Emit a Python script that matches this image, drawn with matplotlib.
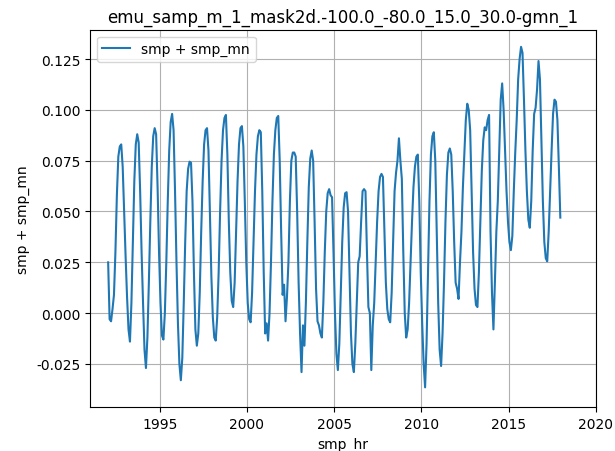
import numpy as np
import matplotlib
matplotlib.use("Agg")
import matplotlib.pyplot as plt

title = "emu_samp_m_1_mask2d.-100.0_-80.0_15.0_30.0-gmn_1"
x_label = "smp_hr"
y_label = "smp + smp_mn"
legend_label = "smp + smp_mn"
start_year = 1992

# monthly values, Jan..Dec, per year
y1992 = [0.025, -0.003, -0.004, 0.002, 0.009, 0.030, 0.058, 0.077, 0.082, 0.083, 0.072, 0.050]
y1993 = [0.028, 0.008, -0.008, -0.014, 0.005, 0.035, 0.065, 0.083, 0.088, 0.084, 0.060, 0.030]
y1994 = [0.005, -0.018, -0.027, -0.012, 0.015, 0.045, 0.072, 0.087, 0.091, 0.088, 0.062, 0.030]
y1995 = [0.005, -0.011, -0.013, 0.000, 0.025, 0.055, 0.080, 0.094, 0.098, 0.090, 0.060, 0.025]
y1996 = [-0.005, -0.025, -0.033, -0.022, 0.005, 0.035, 0.060, 0.071, 0.0745, 0.074, 0.055, 0.020]
y1997 = [-0.008, -0.016, -0.010, 0.010, 0.040, 0.065, 0.083, 0.090, 0.091, 0.080, 0.050, 0.018]
y1998 = [-0.002, -0.012, -0.0135, -0.002, 0.020, 0.050, 0.075, 0.090, 0.096, 0.0975, 0.078, 0.045]
y1999 = [0.020, 0.006, 0.003, 0.015, 0.040, 0.065, 0.083, 0.091, 0.092, 0.082, 0.055, 0.025]
y2000 = [0.005, -0.003, -0.0045, 0.010, 0.035, 0.060, 0.078, 0.087, 0.090, 0.089, 0.060, 0.020]
y2001 = [-0.010, -0.005, -0.0135, 0.000, 0.025, 0.055, 0.078, 0.090, 0.096, 0.097, 0.075, 0.040]
y2002 = [0.009, 0.014, -0.004, 0.008, 0.025, 0.055, 0.075, 0.079, 0.079, 0.077, 0.050, 0.015]
y2003 = [-0.010, -0.029, -0.006, -0.016, 0.005, 0.035, 0.062, 0.076, 0.080, 0.075, 0.045, 0.012]
y2004 = [-0.004, -0.006, -0.010, -0.012, 0.005, 0.030, 0.050, 0.059, 0.061, 0.058, 0.057, 0.030]
y2005 = [0.000, -0.020, -0.028, -0.015, 0.010, 0.035, 0.052, 0.059, 0.0595, 0.050, 0.020, -0.010]
y2006 = [-0.025, -0.029, -0.015, 0.005, 0.025, 0.028, 0.045, 0.060, 0.061, 0.060, 0.030, 0.003]
y2007 = [0.000, -0.028, -0.006, 0.005, 0.025, 0.045, 0.060, 0.067, 0.0685, 0.067, 0.040, 0.015]
y2008 = [0.002, -0.003, -0.0045, 0.010, 0.035, 0.060, 0.069, 0.075, 0.086, 0.075, 0.066, 0.030]
y2009 = [0.000, -0.012, -0.008, 0.005, 0.025, 0.045, 0.062, 0.072, 0.077, 0.078, 0.055, 0.020]
y2010 = [-0.005, -0.025, -0.0365, -0.015, 0.020, 0.055, 0.078, 0.087, 0.089, 0.075, 0.040, 0.005]
y2011 = [-0.018, -0.026, -0.010, 0.015, 0.045, 0.068, 0.079, 0.081, 0.078, 0.060, 0.035, 0.015]
y2012 = [0.012, 0.007, 0.025, 0.040, 0.062, 0.079, 0.095, 0.103, 0.100, 0.090, 0.060, 0.030]
y2013 = [0.012, 0.004, 0.003, 0.020, 0.045, 0.070, 0.085, 0.0914, 0.090, 0.095, 0.0975, 0.040]
y2014 = [0.010, -0.008, 0.015, 0.040, 0.055, 0.080, 0.105, 0.113, 0.100, 0.080, 0.060, 0.045]
y2015 = [0.035, 0.031, 0.038, 0.060, 0.079, 0.095, 0.115, 0.125, 0.131, 0.128, 0.105, 0.080]
y2016 = [0.060, 0.046, 0.042, 0.055, 0.080, 0.098, 0.101, 0.110, 0.124, 0.115, 0.085, 0.055]
y2017 = [0.035, 0.027, 0.0255, 0.040, 0.060, 0.080, 0.098, 0.105, 0.104, 0.095, 0.072, 0.047]

values = np.array(y1992 + y1993 + y1994 + y1995 + y1996 + y1997 + y1998 + y1999 +
                  y2000 + y2001 + y2002 + y2003 + y2004 + y2005 + y2006 + y2007 +
                  y2008 + y2009 + y2010 + y2011 + y2012 + y2013 + y2014 + y2015 +
                  y2016 + y2017)
months = np.arange(len(values))
years = start_year + (months + 0.5) / 12.0

fig = plt.figure(figsize=(6.15, 4.52), dpi=100)
ax = fig.add_axes([0.1463, 0.0967, 0.969 - 0.1463, 0.932 - 0.0967])
ax.plot(years, values, color="#1f77b4", lw=1.5, label=legend_label)
ax.set_xlim(1991.0, 2020.0)
ax.set_ylim(-0.0463, 0.1394)
ax.set_xticks([1995, 2000, 2005, 2010, 2015, 2020])
ax.set_yticks([-0.025, 0.0, 0.025, 0.05, 0.075, 0.1, 0.125])
ax.yaxis.set_major_formatter(matplotlib.ticker.FormatStrFormatter('%.3f'))
ax.grid(True)
ax.set_title(title)
ax.set_xlabel(x_label)
ax.set_ylabel(y_label)
ax.legend(loc="upper left")
fig.savefig("out.png", dpi=100)
